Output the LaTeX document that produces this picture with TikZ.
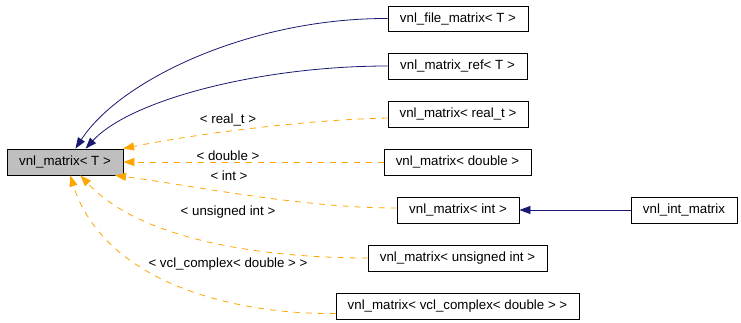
\documentclass[tikz,border=0pt]{standalone}
\usepackage{fontspec}
\setmainfont{Liberation Sans}
\usetikzlibrary{arrows.meta}
\definecolor{navyline}{HTML}{191970}
\definecolor{orangeline}{HTML}{FFA500}
\definecolor{basegray}{HTML}{BFBFBF}
\tikzset{
	cls/.style={draw=black, line width=0.8pt, minimum height=26pt, inner sep=0pt, font=\fontsize{13.3}{15}\selectfont},
	inherit/.style={draw=navyline, line width=0.8pt, -{Triangle[length=11pt,width=8pt]}},
	tmplarg/.style={draw=orangeline, line width=0.8pt, dash pattern=on 6pt off 6pt, -{Triangle[length=11pt,width=8pt]}},
	arglabel/.style={font=\fontsize{13.3}{15}\selectfont, inner sep=0pt}
}

\begin{document}
\begin{tikzpicture}[x=1pt, y=-1pt]
		%%%%% START %%%%%
		\useasboundingbox (0, 0) rectangle (741, 322);
		
		\node[cls, fill=basegray, minimum width=116pt] (base) at (65, 162) {vnl\_matrix< T >};
		
		\node[cls, minimum width=140pt, minimum height=25pt] (file) at (458, 18.5) {vnl\_file\_matrix< T >};
		\node[cls, minimum width=139pt] (ref) at (457.5, 66) {vnl\_matrix\_ref< T >};
		\node[cls, minimum width=140pt] (real) at (458, 114) {vnl\_matrix< real\_t >};
		\node[cls, minimum width=147pt] (dbl) at (457.5, 162) {vnl\_matrix< double >};
		\node[cls, minimum width=122pt] (int) at (458, 210) {vnl\_matrix< int >};
		\node[cls, minimum width=106pt] (intm) at (684, 210) {vnl\_int\_matrix};
		\node[cls, minimum width=179pt] (uint) at (457.5, 258) {vnl\_matrix< unsigned int >};
		\node[cls, minimum width=243pt] (cplx) at (457.5, 306) {vnl\_matrix< vcl\_complex< double > >};
		
		% plain subclasses
		\draw[inherit] (file.west) .. controls (250, 18) and (120, 80) .. (base.52);
		\draw[inherit] (ref.west) .. controls (260, 66) and (130, 100) .. (base.33);
		\draw[inherit] (intm.west) -- (int.east);
		
		% template instances
		\draw[tmplarg] ([yshift=-4pt]real.west) .. controls (300, 120) and (190, 135) .. (base.13.5);
		\draw[tmplarg] (dbl.west) -- (base.east);
		\draw[tmplarg] ([yshift=2pt]int.west) .. controls (300, 208) and (190, 185) .. (base.-15);
		\draw[tmplarg] (uint.west) .. controls (300, 258) and (150, 250) .. (base.-41);
		\draw[tmplarg] ([yshift=6pt]cplx.south west) .. controls (240, 315) and (105, 285) .. (base.-69);
		
		\node[arglabel] (lreal) at (228, 120) {< real\_t >};
		\node[arglabel] (ldbl) at (228, 156) {< double >};
		\node[arglabel] (lint) at (229, 176) {< int >};
		\node[arglabel] (luint) at (228, 212) {< unsigned int >};
		\node[arglabel] (lcplx) at (228, 264) {< vcl\_complex< double > >};
		
		%%%%% END %%%%%
	\end{tikzpicture}
\end{document}
